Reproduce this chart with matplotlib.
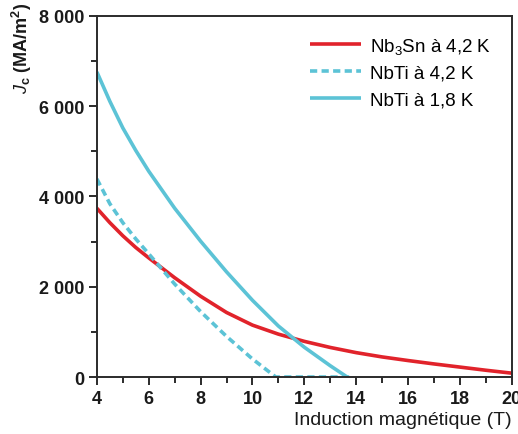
import matplotlib
matplotlib.use("Agg")
import matplotlib.pyplot as plt
from matplotlib.ticker import MultipleLocator, FuncFormatter

# --- data (B in T, Jc in MA/m2) ---
b_nb3sn = [4, 4.5, 5, 5.5, 6, 7, 8, 9, 10, 11, 12, 13, 14, 15, 16, 17, 18, 19, 20]
jc_nb3sn = [3740, 3420, 3130, 2870, 2640, 2200, 1790, 1430, 1150, 950, 790,
            655, 540, 445, 365, 290, 220, 150, 85]

b_nbti_42 = [4, 4.5, 5, 5.5, 6, 7, 8, 9, 10, 10.9, 13.8]
jc_nbti_42 = [4390, 3840, 3420, 3060, 2730, 2060, 1450, 900, 400, 0, 0]

b_nbti_18 = [4, 4.5, 5, 5.5, 6, 7, 8, 9, 10, 11, 12, 13, 13.65]
jc_nbti_18 = [6760, 6110, 5520, 5020, 4560, 3740, 3010, 2330, 1700, 1130, 660, 250, 0]

labels = [r"Nb$_3$Sn à 4,2 K", "NbTi à 4,2 K", "NbTi à 1,8 K"]

RED = "#e1232b"
CYAN = "#5cc3d6"
DARK = "#2b2b2b"
TXT = "#1a1a1a"

plt.rcParams["font.family"] = ["Liberation Sans", "DejaVu Sans"]
plt.rcParams["mathtext.fontset"] = "custom"
plt.rcParams["mathtext.rm"] = "Liberation Sans"
plt.rcParams["mathtext.it"] = "Liberation Sans:italic"
plt.rcParams["mathtext.bf"] = "Liberation Sans:bold"
plt.rcParams["lines.solid_capstyle"] = "butt"

fig = plt.figure(figsize=(5.18, 4.35), dpi=100)
ax = fig.add_axes([0.187, 0.131, 0.801, 0.830])

ax.plot(b_nb3sn, jc_nb3sn, color=RED, lw=2.6, label=labels[0])
ax.plot(b_nbti_42, jc_nbti_42, color=CYAN, lw=2.6, ls=(0, (2, 1.2)), label=labels[1])
ax.plot(b_nbti_18, jc_nbti_18, color=CYAN, lw=2.6, label=labels[2])

ax.set_xlim(4, 20)
ax.set_ylim(0, 8000)
ax.xaxis.set_major_locator(MultipleLocator(2))
ax.xaxis.set_minor_locator(MultipleLocator(1))
ax.yaxis.set_major_locator(MultipleLocator(2000))
ax.yaxis.set_minor_locator(MultipleLocator(1000))
ax.yaxis.set_major_formatter(FuncFormatter(lambda v, p: f"{int(v):,}".replace(",", " ")))

for s in ax.spines.values():
    s.set_color(DARK)
    s.set_linewidth(1.4)
ax.tick_params(which="both", direction="out", color=DARK, width=1.4,
               top=False, right=False)
ax.tick_params(which="major", length=6, labelsize=13, labelcolor=TXT, pad=3)
ax.tick_params(which="minor", length=4)
for t in ax.get_xticklabels() + ax.get_yticklabels():
    t.set_fontweight("bold")

ax.set_xlabel("Induction magnétique (T)", fontsize=14, loc="right",
              color=TXT, labelpad=3)
fig.text(22 / 518, 1 - 3 / 435, r"$\mathbf{\mathit{J}}_\mathbf{c}$ (MA/m$^\mathbf{2}$)",
         rotation=90, ha="center", va="top", fontsize=13, fontweight="bold", color=TXT)

ax.legend(loc="upper left", frameon=False, fontsize=13.5,
          handlelength=2.75, handletextpad=0.45, labelspacing=0.48,
          borderpad=0, borderaxespad=0, bbox_to_anchor=(0.513, 0.945))

fig.savefig("out.png", dpi=100)
